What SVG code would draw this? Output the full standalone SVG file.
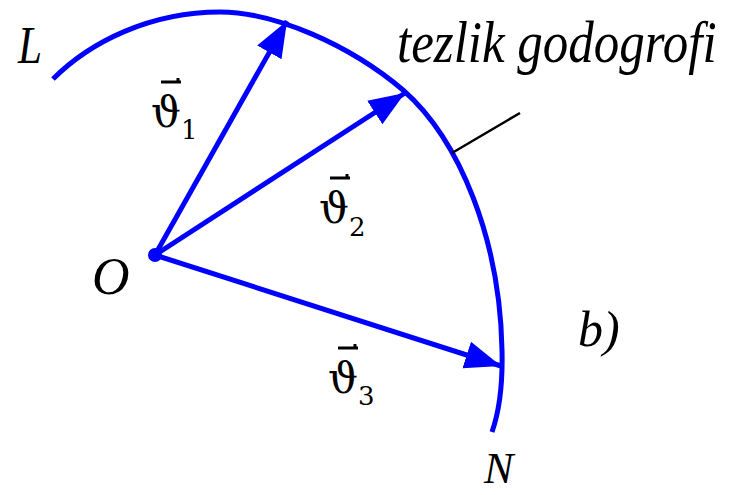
<svg xmlns="http://www.w3.org/2000/svg" width="740" height="495" viewBox="0 0 740 495">
<style>
.blue{stroke:#0000FF;fill:none;stroke-width:5;}
.lbl{font-family:"Liberation Serif","Times New Roman",serif;font-style:italic;fill:#000;}
.vt{font-family:"DejaVu Serif","Liberation Serif",serif;fill:#000;}
.bar{stroke:#000;stroke-width:3;fill:none;}
</style>
<defs>
<marker id="ah" markerUnits="userSpaceOnUse" markerWidth="40" markerHeight="32" refX="36" refY="16" orient="auto">
<path d="M0,2 L36,16 L0,30 Z" fill="#0000FF"/>
</marker>
</defs>
<rect width="740" height="495" fill="#fff"/>
<g id="hodograph">
<path class="blue" d="M53,79 C90,42 150,12 220,12 C275,12 350,45 403,90 C460,140 500,240 502,350 C503,390 498,415 492,432"/>
</g>
<g id="connectors">
<line class="blue" x1="155" y1="255" x2="287" y2="21" marker-end="url(#ah)"/>
<line class="blue" x1="155" y1="255" x2="405" y2="93" marker-end="url(#ah)"/>
<line class="blue" x1="155" y1="255" x2="501" y2="366" marker-end="url(#ah)"/>
<line x1="452" y1="153" x2="520" y2="113" stroke="#000" stroke-width="2.5"/>
</g>
<g id="O">
<circle cx="155" cy="255" r="7" fill="#0000FF"/>
<text class="lbl" x="92" y="294" font-size="52">O</text>
</g>
<g id="L"><text class="lbl" x="18" y="63" font-size="52" textLength="24" lengthAdjust="spacingAndGlyphs">L</text></g>
<g id="N"><text class="lbl" x="484" y="483" font-size="44">N</text></g>
<g id="b"><text class="lbl" x="578" y="346" font-size="50">b)</text></g>
<g id="title"><text class="lbl" transform="translate(397,62) scale(1,1.15)" x="0" y="0" font-size="51">tezlik godogrofi</text></g>
<g id="v1">
<path class="bar" d="M161,82 H181 M178,82 V78"/>
<text class="vt" x="151" y="127" font-size="42">ϑ<tspan font-size="26" dy="12">1</tspan></text>
</g>
<g id="v2">
<path class="bar" d="M330,178 H350 M347,178 V174"/>
<text class="vt" x="319" y="223" font-size="42">ϑ<tspan font-size="26" dy="13">2</tspan></text>
</g>
<g id="v3">
<path class="bar" d="M338,348 H358 M355,348 V344"/>
<text class="vt" x="328" y="393" font-size="42">ϑ<tspan font-size="26" dy="12">3</tspan></text>
</g>
</svg>
